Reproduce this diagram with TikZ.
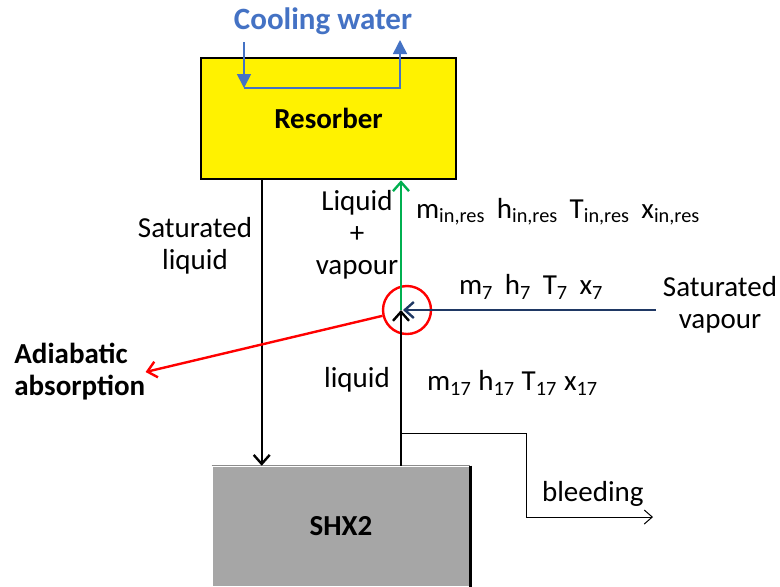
\documentclass[tikz,border=0pt]{standalone}
\usepackage{fontspec}
\setmainfont{Carlito}
\usepackage{tikz}
\usetikzlibrary{positioning,calc,arrows.meta}
\usepackage{xcolor}
\definecolor{cwblue}{HTML}{4472C4}
\definecolor{vapblue}{HTML}{1F3864}
\definecolor{mixgreen}{HTML}{00B050}

\begin{document}
\begin{tikzpicture}[
    x=0.5pt, y=-0.5pt,
    every node/.style={font=\fontsize{14.5}{16}\selectfont},
    unit/.style={rectangle, draw, line width=1.3pt, font=\fontsize{14.5}{16}\selectfont\bfseries},
    flow/.style={-{Straight Barb[length=4.5pt,width=8pt]}, line width=1.2pt},
    cwline/.style={-{Triangle[length=7pt,width=7pt]}, cwblue, line width=0.8pt},
    label/.style={align=center}
]

\useasboundingbox (0,0) rectangle (780,586);

% Resorber node
\node[unit, fill=yellow, minimum width=127.5pt, minimum height=60.5pt] (res) at (328.5,118.5) {Resorber};

% SHX2 node
\node[unit, draw=none, fill=black!35, minimum width=128pt, minimum height=59.5pt] (shx) at (341,526.5) {SHX2};
\draw[black!45, line width=0.5pt] (shx.north west) -- (shx.north east);
\draw[line width=1.2pt] (shx.north east) -- (shx.south east);

% Cooling water
\node[font=\fontsize{15.5}{17}\selectfont\bfseries, text=cwblue] (cw) at (323,21) {Cooling water};
\coordinate (cwin) at (244,42);
\coordinate (cwturn) at (244,88);
\coordinate (cwout) at (400,40);
\draw[cwline] (cwin) -- (cwturn);
\draw[cwline] (cwturn) -| (cwout);

% Mixing point
\coordinate (mix) at (401,310);
\node[circle, draw=red, line width=1.2pt, minimum size=24pt, inner sep=0pt] (junc) at (407,310) {};

% Saturated liquid arrow
\draw[flow] ([xshift=31pt]res.south west) -- ([xshift=25pt]shx.north west);
\node[label] (satliq) at (195,246) {Saturated\\liquid};

% Liquid + vapour to resorber
\draw[flow, mixgreen] (mix) -- (mix |- res.south);
\node[label] (liqvap) at (357,235) {Liquid\\+\\vapour};
\node[anchor=west] (statein) at (409,212) {m\textsubscript{in,res}\ \,h\textsubscript{in,res}\ \,T\textsubscript{in,res}\ \,x\textsubscript{in,res}};

% Saturated vapour
\node[label] (satvap) at (720,305) {Saturated\\vapour};
\draw[flow, vapblue] (satvap.west |- mix) -- ([xshift=1pt]mix);
\node[anchor=west] (state7) at (452,287) {m\textsubscript{7}\ \,h\textsubscript{7}\ \,T\textsubscript{7}\ \,x\textsubscript{7}};

% Liquid from SHX2
\draw[flow] (mix |- shx.north) -- (mix);
\node (liq) at (357,380) {liquid};
\node[anchor=west] (state17) at (420,383) {m\textsubscript{17} h\textsubscript{17} T\textsubscript{17} x\textsubscript{17}};

% Adiabatic absorption
\node[align=left, anchor=west, inner sep=0pt, font=\fontsize{14.5}{16}\selectfont\bfseries] (adiab) at (14,372) {Adiabatic\\absorption};
\draw[flow, red] (junc) -- (adiab.east);

% Bleeding
\coordinate (bleedstart) at (401,433);
\coordinate (bleedend) at (653,517);
\draw[-{Straight Barb[length=4pt,width=7pt]}, line width=0.5pt] (bleedstart) -- ++(125,0) |- (bleedend);
\node[anchor=west] (bleedlabel) at (535,494) {bleeding};

\end{tikzpicture}
\end{document}
